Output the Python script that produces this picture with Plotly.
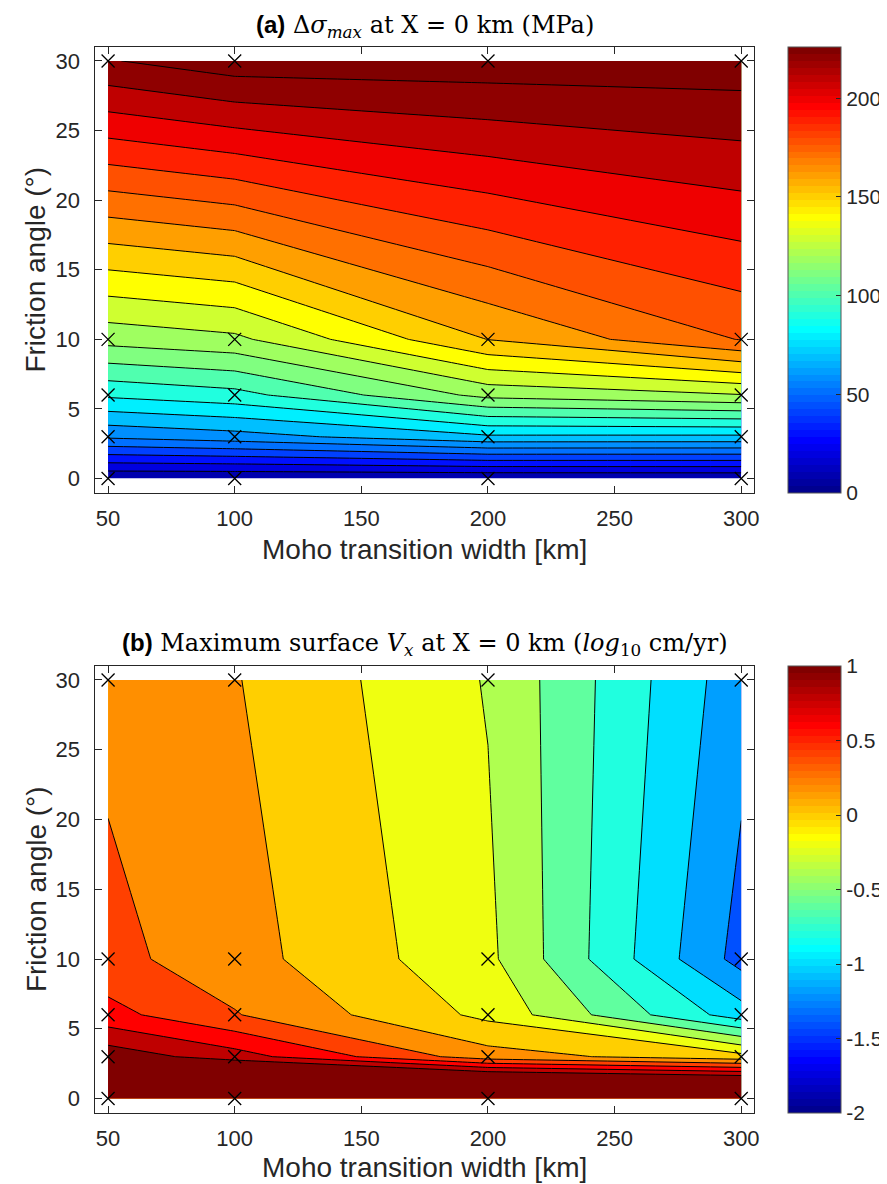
import numpy as np
import plotly.graph_objects as go

# ---------------- data ----------------
moho_width = [50, 100, 200, 300]          # km (columns)
friction_angle = [0, 3, 6, 10, 30]        # degrees (rows)

# (a) delta sigma max at X = 0 km (MPa); rows follow friction_angle
dsigma_max = [
    [0.8, 0.6, 0.5, 0.8],
    [51.6, 55.8, 68.2, 67.9],
    [81.8, 86.5, 113.0, 119.5],
    [113.6, 117.7, 150.2, 170.5],
    [219.3, 226.0, 226.0, 225.9],
]

# (b) log10 of maximum surface Vx at X = 0 km (cm/yr)
log_vx = [
    [2.00, 2.05, 2.08, 1.93],
    [0.925, 0.69, 0.087, -0.125],
    [0.467, 0.213, -0.25, -1.107],
    [0.259, 0.084, -0.354, -1.475],
    [0.142, 0.012, -0.414, -1.324],
]

levels_a = dict(start=10, end=220, size=10)
levels_b = dict(start=-2.0, end=0.8, size=0.2)
clim_a = (0, 226)
clim_b = (-2, 1)
cbar_ticks_a = [0, 50, 100, 150, 200]
cbar_ticks_b = [-2, -1.5, -1, -0.5, 0, 0.5, 1]
cbar_text_b = ["-2", "-1.5", "-1", "-0.5", "0", "0.5", "1"]
x_ticks = [50, 100, 150, 200, 250, 300]
y_ticks = [0, 5, 10, 15, 20, 25, 30]


# ---------------- MATLAB jet(64) ----------------
def jet(m=64):
    n = int(np.ceil(m / 4))
    u = np.concatenate([np.arange(1, n + 1) / n, np.ones(n - 1), np.arange(n, 0, -1) / n])
    g = int(np.ceil(n / 2)) - (1 if m % 4 == 1 else 0) + np.arange(1, len(u) + 1)
    r = g + n
    b = g - n
    J = np.zeros((m, 3))
    rr = r[r <= m]
    J[rr - 1, 0] = u[:len(rr)]
    gg = g[g <= m]
    J[gg - 1, 1] = u[:len(gg)]
    bb = b[b > 0]
    J[bb - 1, 2] = u[len(u) - len(bb):]
    return J


JET = jet(64)


def rgb(c):
    return "rgb(%d,%d,%d)" % tuple(int(round(v * 255)) for v in c)


def jet_color(v, lo, hi):
    idx = int(np.floor((v - lo) / (hi - lo) * 64 + 1e-9)) + 1
    idx = min(max(idx, 1), 64)
    return rgb(JET[idx - 1])


def fill_scale(lv, clim):
    # plotly colours band j (j=0 below first level) at position j/nc;
    # MATLAB colour of a band = colour of its upper level
    start, end, size = lv["start"], lv["end"], lv["size"]
    nc = int(np.floor((end + size * 1e-6 - start) / size)) + 1
    scale = []
    for j in range(nc + 1):
        upper = start + size * j
        scale.append([j / nc, jet_color(upper, *clim)])
    return scale


def bar_scale():
    s = []
    for i in range(64):
        c = rgb(JET[i])
        s.append([i / 64, c])
        s.append([(i + 1) / 64, c])
    return s


# ---------------- geometry (pixels) ----------------
W, H = 887, 1184
ax_left, ax_right = 88, 751
a_top, a_bot = 39, 484.5
b_top, b_bot = 658, 1104.5
cb_left, cb_w = 785, 53

def py(p):
    return 1 - p / H

def px(p):
    return p / W

TXT = "#262626"
SANS = "Liberation Sans, Arial, sans-serif"
SERIF = "DejaVu Serif, Liberation Serif, serif"
TICK_SIZE = 22
CBAR_TICK_SIZE = 21
LABEL_SIZE = 28

fig = go.Figure()

grid_x = [xv for yv in friction_angle for xv in moho_width]
grid_y = [yv for yv in friction_angle for xv in moho_width]

panels = [
    ("x", "y", dsigma_max, levels_a, clim_a, a_top, a_bot, cbar_ticks_a, [str(t) for t in cbar_ticks_a]),
    ("x2", "y2", log_vx, levels_b, clim_b, b_top, b_bot, cbar_ticks_b, cbar_text_b),
]

for xa, ya, z, lv, clim, top, bot, cticks, ctext in panels:
    fig.add_trace(go.Contour(
        x=moho_width, y=friction_angle, z=z, xaxis=xa, yaxis=ya,
        autocontour=False,
        contours=dict(start=lv["start"], end=lv["end"], size=lv["size"],
                      coloring="fill", showlines=True),
        colorscale=fill_scale(lv, clim),
        line=dict(color="black", width=1, smoothing=0),
        showscale=False, hoverinfo="skip",
    ))
    fig.add_trace(go.Scatter(
        x=grid_x, y=grid_y, xaxis=xa, yaxis=ya, mode="markers",
        marker=dict(symbol="x-thin", size=13, line=dict(color="black", width=1.3)),
        showlegend=False, hoverinfo="skip",
    ))
    # colour bar carrier (invisible point)
    fig.add_trace(go.Scatter(
        x=[moho_width[0]], y=[friction_angle[0]], xaxis=xa, yaxis=ya, mode="markers",
        marker=dict(size=1, opacity=0, color=[clim[0]], cmin=clim[0], cmax=clim[1],
                    colorscale=bar_scale(), showscale=True,
                    colorbar=dict(
                        x=px(cb_left), xanchor="left", xref="paper",
                        y=py(top), yanchor="top", yref="paper",
                        len=(bot - top) / H, lenmode="fraction",
                        thickness=cb_w, thicknessmode="pixels",
                        xpad=0, ypad=0,
                        outlinewidth=1, outlinecolor="#555555",
                        tickmode="array", tickvals=cticks, ticktext=ctext,
                        ticks="inside", ticklen=5, tickcolor=TXT,
                        tickfont=dict(family=SANS, size=CBAR_TICK_SIZE, color=TXT),
                    )),
        showlegend=False, hoverinfo="skip",
    ))

axis_common = dict(
    showgrid=False, zeroline=False, showline=True, linecolor=TXT, linewidth=1,
    mirror="ticks", ticks="inside", ticklen=7, tickcolor=TXT, tickwidth=1,
    tickfont=dict(family=SANS, size=TICK_SIZE, color=TXT),
)
xax = dict(range=[45, 305], tickvals=x_ticks, ticklabelstandoff=6, **axis_common)
yax = dict(range=[-1, 31], tickvals=y_ticks, ticklabelstandoff=10, **axis_common)

fig.update_layout(
    width=W, height=H, margin=dict(l=0, r=0, t=0, b=0),
    paper_bgcolor="white", plot_bgcolor="white", showlegend=False,
    xaxis=dict(domain=[px(ax_left), px(ax_right)], anchor="y", **xax),
    yaxis=dict(domain=[py(a_bot), py(a_top)], anchor="x", **yax),
    xaxis2=dict(domain=[px(ax_left), px(ax_right)], anchor="y2", **xax),
    yaxis2=dict(domain=[py(b_bot), py(b_top)], anchor="x2", **yax),
)

cx = px((ax_left + ax_right) / 2)
SANS_SPAN = '<span style="font-family:Liberation Sans, Arial, sans-serif"><b>%s</b></span>'
ann = []
ann.append(dict(
    text=SANS_SPAN % "(a)" + ' Δ<i>σ</i><sub><i>max</i></sub> at X = 0 km (MPa)',
    x=cx, y=py(18), xref="paper", yref="paper", xanchor="center", yanchor="middle",
    showarrow=False, font=dict(family=SERIF, size=24, color="black")))
ann.append(dict(
    text=SANS_SPAN % "(b)" + ' Maximum surface <i>V<sub>x</sub></i> at X = 0 km '
         '(<i>log</i><sub>10</sub> cm/yr)',
    x=cx, y=py(636), xref="paper", yref="paper", xanchor="center", yanchor="middle",
    showarrow=False, font=dict(family=SERIF, size=24, color="black")))
for ylab_c, xlab_y in [((a_top + a_bot) / 2, 541), ((b_top + b_bot) / 2, 1159)]:
    ann.append(dict(text="Moho transition width [km]", x=cx, y=py(xlab_y),
                    xref="paper", yref="paper", xanchor="center", yanchor="middle",
                    showarrow=False, font=dict(family=SANS, size=LABEL_SIZE, color=TXT)))
    ann.append(dict(text="Friction angle (°)", x=px(28), y=py(ylab_c), textangle=-90,
                    xref="paper", yref="paper", xanchor="center", yanchor="middle",
                    showarrow=False, font=dict(family=SANS, size=LABEL_SIZE, color=TXT)))
fig.update_layout(annotations=ann)

fig.write_html("out.html")
